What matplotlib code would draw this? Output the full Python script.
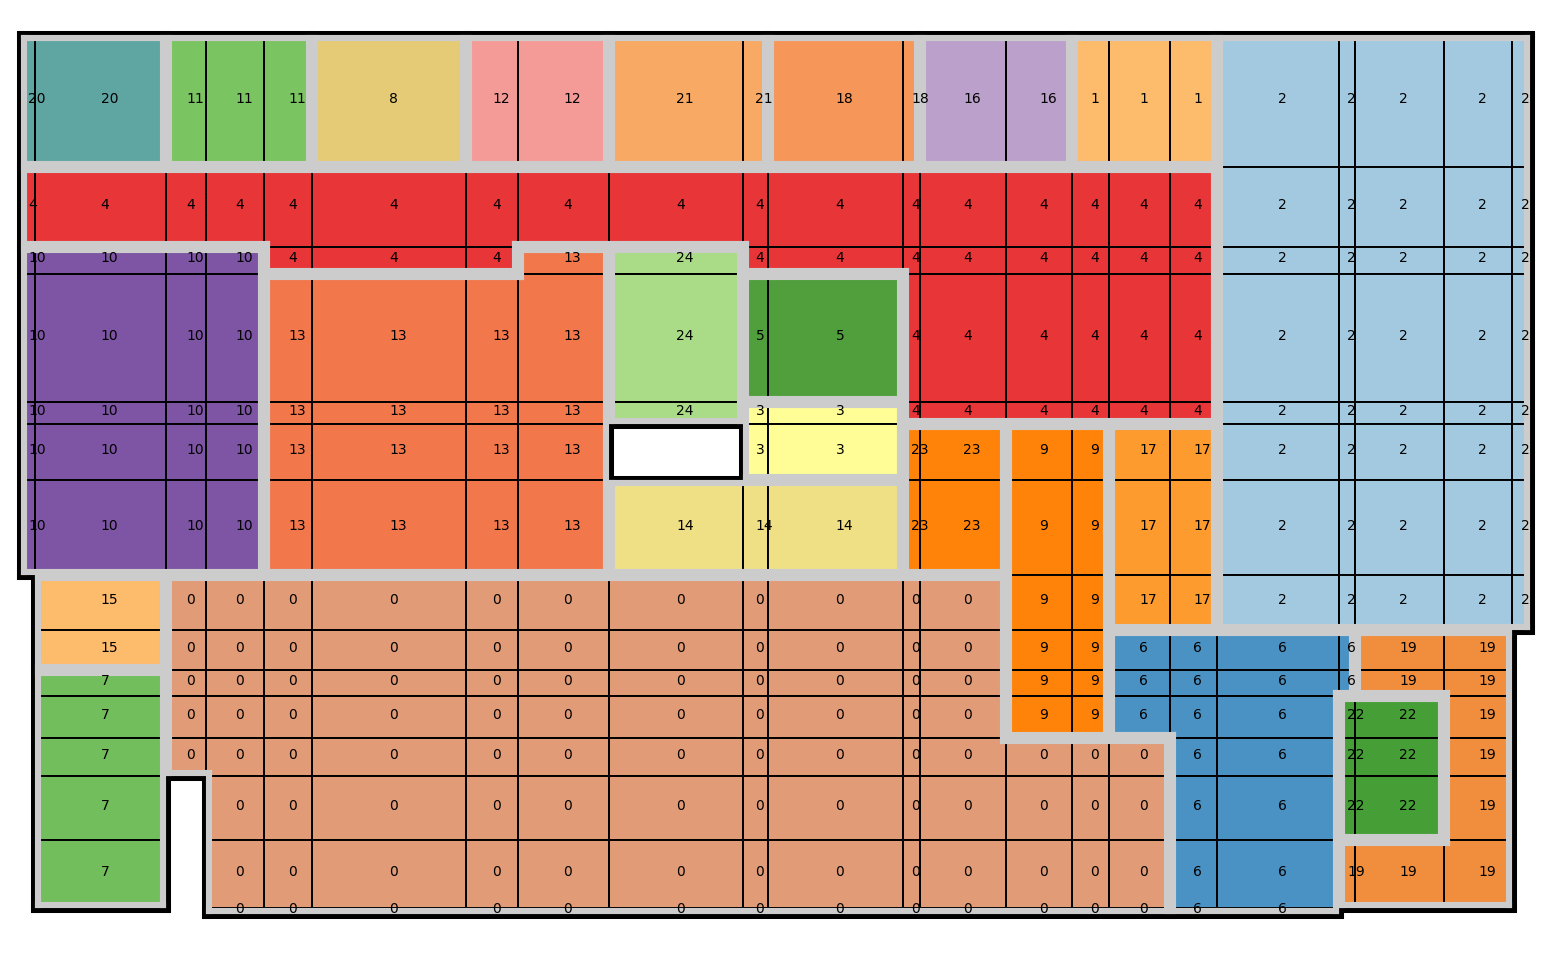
import numpy as np
import matplotlib
matplotlib.use("Agg")
import matplotlib.pyplot as plt
from matplotlib.patches import Rectangle
from matplotlib.collections import LineCollection

E = -1  # no room / outside the floor

# column and row boundaries of the floor grid (origin top-left)
x_edges = [0, 14, 145, 185, 243, 291, 445, 497, 588, 722, 747, 882, 899, 985,
           1051, 1088, 1149, 1196, 1318, 1334, 1423, 1491, 1509]
y_edges = [0, 132, 212, 239, 367, 389, 445, 540, 595, 635, 661, 703, 741, 805, 873, 879]

# cluster id of every grid cell, row by row from the top
cells = [
    [20, 20, 11, 11, 11, 8, 12, 12, 21, 21, 18, 18, 16, 16, 1, 1, 1, 2, 2, 2, 2, 2],
    [4, 4, 4, 4, 4, 4, 4, 4, 4, 4, 4, 4, 4, 4, 4, 4, 4, 2, 2, 2, 2, 2],
    [10, 10, 10, 10, 4, 4, 4, 13, 24, 4, 4, 4, 4, 4, 4, 4, 4, 2, 2, 2, 2, 2],
    [10, 10, 10, 10, 13, 13, 13, 13, 24, 5, 5, 4, 4, 4, 4, 4, 4, 2, 2, 2, 2, 2],
    [10, 10, 10, 10, 13, 13, 13, 13, 24, 3, 3, 4, 4, 4, 4, 4, 4, 2, 2, 2, 2, 2],
    [10, 10, 10, 10, 13, 13, 13, 13, E, 3, 3, 23, 23, 9, 9, 17, 17, 2, 2, 2, 2, 2],
    [10, 10, 10, 10, 13, 13, 13, 13, 14, 14, 14, 23, 23, 9, 9, 17, 17, 2, 2, 2, 2, 2],
    [E, 15, 0, 0, 0, 0, 0, 0, 0, 0, 0, 0, 0, 9, 9, 17, 17, 2, 2, 2, 2, 2],
    [E, 15, 0, 0, 0, 0, 0, 0, 0, 0, 0, 0, 0, 9, 9, 6, 6, 6, 6, 19, 19, E],
    [E, 7, 0, 0, 0, 0, 0, 0, 0, 0, 0, 0, 0, 9, 9, 6, 6, 6, 6, 19, 19, E],
    [E, 7, 0, 0, 0, 0, 0, 0, 0, 0, 0, 0, 0, 9, 9, 6, 6, 6, 22, 22, 19, E],
    [E, 7, 0, 0, 0, 0, 0, 0, 0, 0, 0, 0, 0, 0, 0, 0, 6, 6, 22, 22, 19, E],
    [E, 7, E, 0, 0, 0, 0, 0, 0, 0, 0, 0, 0, 0, 0, 0, 6, 6, 22, 22, 19, E],
    [E, 7, E, 0, 0, 0, 0, 0, 0, 0, 0, 0, 0, 0, 0, 0, 6, 6, 19, 19, 19, E],
    [E, E, E, 0, 0, 0, 0, 0, 0, 0, 0, 0, 0, 0, 0, 0, 6, 6, E, E, E, E],
]

colors = {
    0: '#e29b77', 1: '#fdbb6c', 2: '#a3c9e1', 3: '#fefd96', 4: '#e83537',
    5: '#509f3c', 6: '#4a92c4', 7: '#73be5c', 8: '#e5cb75', 9: '#ff8308',
    10: '#7e55a5', 11: '#7ac461', 12: '#f59b97', 13: '#f2784c', 14: '#efe086',
    15: '#fdbb6c', 16: '#bba0cc', 17: '#fe9b2f', 18: '#f69659', 19: '#f08e3e',
    20: '#5fa5a2', 21: '#f8aa65', 22: '#469e37', 23: '#ff8308', 24: '#aadb86',
}

lab = np.array(cells)
nr, nc = lab.shape


def cell(r, c):
    if 0 <= r < nr and 0 <= c < nc:
        return lab[r, c]
    return E


fig = plt.figure(figsize=(15.46, 9.57), dpi=100)
ax = fig.add_axes([21 / 1546, 43 / 957, 1509 / 1546, 879 / 957])
ax.set_xlim(x_edges[0], x_edges[-1])
ax.set_ylim(y_edges[-1], y_edges[0])
ax.axis('off')

# cells
for r in range(nr):
    for c in range(nc):
        v = lab[r, c]
        if v == E:
            continue
        x0, x1 = x_edges[c], x_edges[c + 1]
        y0, y1 = y_edges[r], y_edges[r + 1]
        ax.add_patch(Rectangle((x0, y0), x1 - x0, y1 - y0, facecolor=colors[v],
                               edgecolor='black', lw=1.4, zorder=1))
        ax.text((x0 + x1) / 2, (y0 + y1) / 2 + 2, str(v), ha='left', va='baseline',
                fontsize=10, zorder=6)

# walls: every edge between two different clusters
walls = []
for c in range(nc + 1):
    r = 0
    while r < nr:
        if cell(r, c - 1) == cell(r, c):
            r += 1
            continue
        r0 = r
        while r + 1 < nr and cell(r + 1, c - 1) != cell(r + 1, c):
            r += 1
        walls.append([(x_edges[c], y_edges[r0]), (x_edges[c], y_edges[r + 1])])
        r += 1
for r in range(nr + 1):
    c = 0
    while c < nc:
        if cell(r - 1, c) == cell(r, c):
            c += 1
            continue
        c0 = c
        while c + 1 < nc and cell(r - 1, c + 1) != cell(r, c + 1):
            c += 1
        walls.append([(x_edges[c0], y_edges[r]), (x_edges[c + 1], y_edges[r])])
        c += 1

# grey outline of each cluster, slightly inside it
d = 3.0
grey = []
for c in range(nc + 1):
    x = x_edges[c]
    for cin, cout, off in ((c - 1, c, -d), (c, c - 1, d)):
        r = 0
        while r < nr:
            reg = cell(r, cin)
            if reg == E or cell(r, cout) == reg:
                r += 1
                continue
            r0 = r
            while r + 1 < nr and cell(r + 1, cin) == reg and cell(r + 1, cout) != reg:
                r += 1
            y0 = y_edges[r0] - d if cell(r0 - 1, cin) == reg else y_edges[r0] + d
            y1 = y_edges[r + 1] + d if cell(r + 1, cin) == reg else y_edges[r + 1] - d
            grey.append([(x + off, y0), (x + off, y1)])
            r += 1
for r in range(nr + 1):
    y = y_edges[r]
    for rin, rout, off in ((r - 1, r, -d), (r, r - 1, d)):
        c = 0
        while c < nc:
            reg = cell(rin, c)
            if reg == E or cell(rout, c) == reg:
                c += 1
                continue
            c0 = c
            while c + 1 < nc and cell(rin, c + 1) == reg and cell(rout, c + 1) != reg:
                c += 1
            x0 = x_edges[c0] - d if cell(rin, c0 - 1) == reg else x_edges[c0] + d
            x1 = x_edges[c + 1] + d if cell(rin, c + 1) == reg else x_edges[c + 1] - d
            grey.append([(x0, y + off), (x1, y + off)])
            c += 1

ax.add_collection(LineCollection(walls, colors='black', linewidths=6.5,
                                 capstyle='projecting', zorder=3, clip_on=False))
ax.add_collection(LineCollection(grey, colors='#cccccc', linewidths=4.4,
                                 capstyle='projecting', zorder=4, clip_on=False))

fig.savefig('out.png', dpi=100)
